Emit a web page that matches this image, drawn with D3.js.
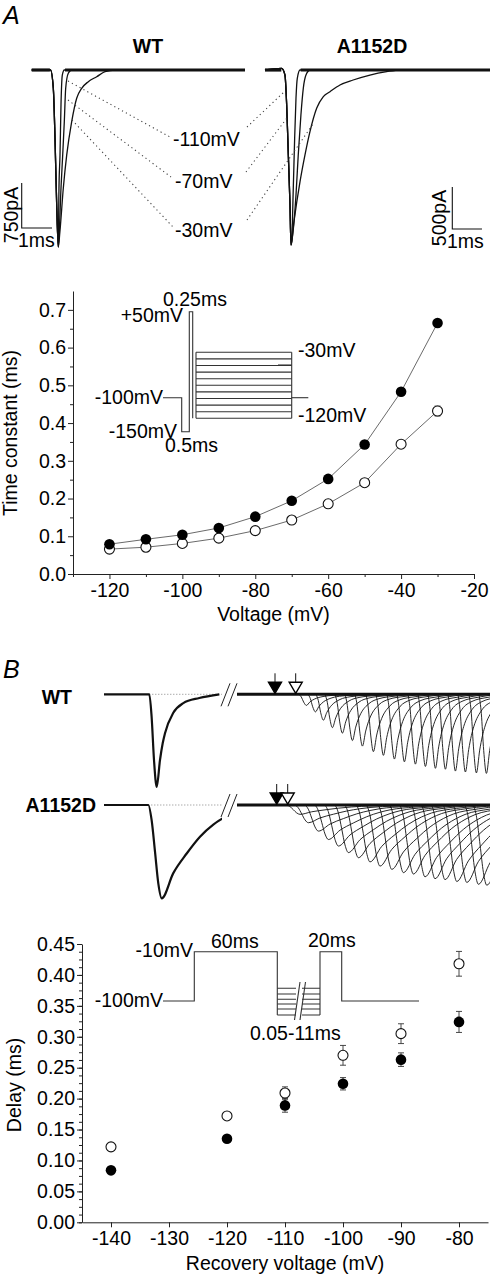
<!DOCTYPE html>
<html><head><meta charset="utf-8">
<script src="https://cdn.jsdelivr.net/npm/d3@7"></script>
<style>
body{margin:0;background:#fff}
svg text{font-family:"Liberation Sans",Arial,Helvetica,sans-serif;fill:#000}
</style></head><body>
<svg id="c" width="490" height="1278"></svg>
<script>
// ---------------- DATA ----------------
// Panel A top: current traces (ms, pA)
const wtDescent = [[0,0],[0.62,0],[0.713,-300],[0.769,-1130],[0.825,-2250],[0.878,-2950]];
const wtTraceFast = [[0.90,-1970],[0.934,-1420],[0.967,-580],[1.01,-85],[1.076,0],[7.04,0]];
const wtTraceMid = [[0.91,-2700],[0.967,-1967],[1.023,-1417],[1.076,-862],[1.122,-305],[1.208,-55],[1.32,0],[7.04,0]];
const wtTraceSlow = [[0.93,-2700],[1.043,-1970],[1.155,-1420],[1.32,-860],[1.485,-470],[1.65,-305],[1.868,-195],[2.145,-112],[2.42,-28],[2.75,0],[7.04,0]];
const mutDescent = [[0,0],[0.56,20],[0.673,-60],[0.73,-416],[0.786,-1011],[0.842,-1607],[0.875,-2083]];
const mutTraceFast = [[0.898,-2043],[0.953,-1408],[0.999,-813],[1.044,-337],[1.088,-99],[1.18,0],[7.58,0]];
const mutTraceMid = [[0.932,-1963],[1.044,-1488],[1.12,-1011],[1.21,-535],[1.29,-218],[1.38,-60],[1.52,0],[7.58,0]];
const mutTraceSlow = [[0.976,-1805],[1.18,-1329],[1.347,-1011],[1.515,-734],[1.74,-456],[1.965,-317],[2.19,-258],[2.525,-178],[2.97,-119],[3.535,-60],[4.1,-20],[4.55,0],[7.58,0]];
const traceLabels = ["-110mV","-70mV","-30mV"];

// Chart 1: time constant vs voltage
const tauVoltages = [-120,-110,-100,-90,-80,-70,-60,-50,-40,-30];
const tauFilled   = [0.079,0.092,0.104,0.122,0.152,0.194,0.252,0.343,0.483,0.665];
const tauFilledErr= [0.003,0.003,0.003,0.004,0.004,0.004,0.005,0.006,0.009,0.007];
const tauOpen     = [0.066,0.071,0.081,0.095,0.115,0.143,0.186,0.242,0.344,0.432];
const tauOpenErr  = [0.004,0.003,0.003,0.004,0.004,0.004,0.004,0.005,0.006,0.013];
const tauTicksX = [-120,-100,-80,-60,-40,-20];
const tauTicksY = [0,0.1,0.2,0.3,0.4,0.5,0.6,0.7];

// Panel B: recovery traces (ms, fraction of peak)
const wtTemplate  = [[0,0],[0.115,-0.24],[0.235,-0.71],[0.37,-1],[0.535,-0.71],[0.67,-0.53],[0.785,-0.42],[1.2,-0.2],[1.7,-0.095],[2.5,-0.04],[3.5,0]];
const mutTemplate = [[0,0],[0.165,-0.16],[0.335,-0.5],[0.5,-0.84],[0.67,-1],[1.25,-0.73],[1.92,-0.52],[2.585,-0.34],[3.25,-0.21],[3.75,-0.14],[5,-0.06],[7,0]];
const wtMainOnset = 2.265, mutMainOnset = 2.215;
const wtRecOnsets = [9.75,10.2,10.6,11.05,11.55,12.05,12.55,13.1,13.6,14.15,14.65,15.2,15.7,16.2,16.7,17.2,17.7,18.25,18.75];
const wtRecAmps   = [0.12,0.19,0.28,0.36,0.42,0.50,0.56,0.62,0.66,0.70,0.73,0.755,0.78,0.80,0.81,0.83,0.84,0.85,0.855];
const mutRecOnsets= [9.13,9.55,10.05,10.55,11.05,11.55,12.05,12.63,13.13,13.72,14.3,14.8,15.38,15.88,16.38,16.97,17.47,18.05,18.47];
const mutRecAmps  = [0.10,0.19,0.28,0.37,0.44,0.51,0.565,0.61,0.655,0.69,0.725,0.74,0.77,0.79,0.80,0.82,0.83,0.85,0.86];
const wtArrows = [8.55, 9.585];
const mutArrows = [8.635, 9.185];

// Chart 2: delay vs recovery voltage
const delayVoltages = [-140,-120,-110,-100,-90,-80];
const delayFilled   = [0.084,0.135,0.189,0.224,0.263,0.324];
const delayFilledErr= [0.004,0.005,0.011,0.010,0.011,0.017];
const delayOpen     = [0.122,0.172,0.209,0.270,0.305,0.418];
const delayOpenErr  = [0.004,0.005,0.010,0.016,0.016,0.020];
const delayTicksX = [-140,-130,-120,-110,-100,-90,-80];
const delayTicksY = [0,0.05,0.1,0.15,0.2,0.25,0.3,0.35,0.4,0.45];

// ---------------- DRAW ----------------
const svg = d3.select("#c");
const FS = 19.5;
const ink = "#111";
const hy = s => s.replace(/\u2212/g,"-");

function txt(x,y,s,opt={}){
  const t = svg.append("text").attr("x",x).attr("y",y).text(s)
    .attr("font-size",opt.size||FS).attr("text-anchor",opt.anchor||"start");
  if(opt.bold) t.attr("font-weight","bold");
  if(opt.italic) t.attr("font-style","italic");
  if(opt.rot!==undefined) t.attr("transform",`rotate(${opt.rot},${x},${y})`);
  return t;
}
function poly(pts, w=1, col="#333", dash=null){
  const p = svg.append("path").attr("d", d3.line()(pts)).attr("fill","none")
     .attr("stroke",col).attr("stroke-width",w);
  if(dash) p.attr("stroke-dasharray",dash);
  return p;
}

// ===== Panel A label
txt(3,24,"A",{size:25,italic:true});
txt(148,53,"WT",{bold:true,anchor:"middle"});
txt(372,53,"A1152D",{bold:true,anchor:"middle"});

// ===== Panel A traces
const xWT = d3.scaleLinear().domain([0,7.04]).range([31.7,245]);
const yWT = d3.scaleLinear().domain([0,-750]).range([70,115]);
const xMU = d3.scaleLinear().domain([0,7.58]).range([265,490]);
const yMU = d3.scaleLinear().domain([0,-500]).range([70,112]);

function drawTrace(pts,xs,ys,w){
  svg.append("path").attr("d", d3.line().x(d=>xs(d[0])).y(d=>ys(d[1])).curve(d3.curveMonotoneX)(pts))
    .attr("fill","none").attr("stroke",ink).attr("stroke-width",w);
}
[wtTraceFast,wtTraceMid,wtTraceSlow].forEach(tr=>drawTrace(wtDescent.concat(tr),xWT,yWT,1.3));
[mutTraceFast,mutTraceMid,mutTraceSlow].forEach(tr=>drawTrace(mutDescent.concat(tr),xMU,yMU,1.3));
// noisy baselines (thick)
drawTrace([[0,0],[0.6,0]],xWT,yWT,3.2);
drawTrace([[1.1,0],[7.04,0]],xWT,yWT,3.2);
drawTrace([[0,0],[0.55,0]],xMU,yMU,3.2);
drawTrace([[1.2,0],[7.58,0]],xMU,yMU,3.2);

// dotted connectors
const dot = "1.2,3.2";
poly([[68,81],[170,137]],1.1,"#444",dot);
poly([[68,100],[171,177]],1.1,"#444",dot);
poly([[72,120],[173,227]],1.1,"#444",dot);
poly([[247,127],[284,92]],1.1,"#444",dot);
poly([[246,172],[287,118]],1.1,"#444",dot);
poly([[247,220],[313,124]],1.1,"#444",dot);
txt(173,146,traceLabels[0]);
txt(175,188,traceLabels[1]);
txt(175,237,traceLabels[2]);

// scale bars
{
  const x0=21.7, yb=228;
  poly([[x0,yb-(yWT(-750)-yWT(0))],[x0,yb],[x0+(xWT(1)-xWT(0)),yb]],1.1,"#111");
  txt(18,215,"750pA",{anchor:"middle",rot:-90});
  txt(18,247,"1ms");
  const x1=452.3, yb2=229;
  poly([[x1,yb2-(yMU(-500)-yMU(0))],[x1,yb2],[x1+(xMU(1)-xMU(0)),yb2]],1.1,"#111");
  txt(446,218,"500pA",{anchor:"middle",rot:-90});
  txt(447,248,"1ms");
}

// ===== Chart 1
{
  const x = d3.scaleLinear().domain([-130,-20]).range([73,474]);
  const y = d3.scaleLinear().domain([0,0.75]).range([574,291]);
  const gx = svg.append("g").attr("transform","translate(0,574)");
  gx.call(d3.axisBottom(x).tickValues(tauTicksX).tickSize(5).tickSizeOuter(0).tickPadding(4).tickFormat(d=>String(d)));
  const gxm = svg.append("g").attr("transform","translate(0,574)");
  gxm.call(d3.axisBottom(x).tickValues(d3.range(-130,-20,20)).tickSize(3).tickFormat(""));
  gxm.select(".domain").remove();
  const gy = svg.append("g").attr("transform","translate(73,0)");
  gy.call(d3.axisLeft(y).tickValues(tauTicksY).tickSize(5).tickSizeOuter(0).tickPadding(2).tickFormat(d=>hy(d3.format(".1f")(d))));
  const gym = svg.append("g").attr("transform","translate(73,0)");
  gym.call(d3.axisLeft(y).tickValues(d3.range(0.05,0.75,0.1)).tickSize(3).tickFormat(""));
  gym.select(".domain").remove();
  svg.selectAll("g text").attr("font-size",FS).attr("font-family","Liberation Sans, Arial, sans-serif");
  svg.selectAll("g path.domain, g .tick line").attr("stroke","#222");
  txt(17,433,"Time constant (ms)",{anchor:"middle",rot:-90});
  txt(273.5,621,"Voltage (mV)",{anchor:"middle"});

  // inset protocol
  const c="#333";
  poly([[163,397.7],[181.7,397.7],[181.7,431.7],[189.3,431.7],[189.3,311.7],[192.7,311.7],[192.7,418.3]],1.1,c);
  d3.range(11).forEach(i=>{ const yy=352.3+i*(418.3-352.3)/10; poly([[196,yy],[291.7,yy]],1.1,c); });
  poly([[196,352.3],[196,418.3]],1.1,c);
  poly([[291.7,352.3],[291.7,418.3]],1.1,c);
  poly([[291.7,397.7],[308.3,397.7]],1.1,c);
  poly([[278,365],[291.7,365]],1.1,c);
  txt(163,397.7+6.5,"-100mV",{anchor:"end"});
  txt(183,322,"+50mV",{anchor:"end"});
  txt(163,306,"0.25ms");
  txt(177,438,"-150mV",{anchor:"end"});
  txt(165,452,"0.5ms");
  txt(298,357,"-30mV");
  txt(298,422,"-120mV");

  const line = d3.line().x((d,i)=>x(tauVoltages[i])).y(d=>y(d));
  svg.append("path").attr("d",line(tauFilled)).attr("fill","none").attr("stroke","#444").attr("stroke-width",0.8);
  svg.append("path").attr("d",line(tauOpen)).attr("fill","none").attr("stroke","#444").attr("stroke-width",0.8);
  function errs(vals,errsA){
    vals.forEach((v,i)=>{
      const xx=x(tauVoltages[i]);
      poly([[xx,y(v-errsA[i])],[xx,y(v+errsA[i])]],0.9,"#333");
      poly([[xx-3,y(v+errsA[i])],[xx+3,y(v+errsA[i])]],0.9,"#333");
      poly([[xx-3,y(v-errsA[i])],[xx+3,y(v-errsA[i])]],0.9,"#333");
    });
  }
  errs(tauOpen,tauOpenErr); errs(tauFilled,tauFilledErr);
  svg.append("g").selectAll("circle").data(tauOpen).join("circle")
    .attr("cx",(d,i)=>x(tauVoltages[i])).attr("cy",d=>y(d)).attr("r",5)
    .attr("fill","#fff").attr("stroke","#111").attr("stroke-width",1.1);
  svg.append("g").selectAll("circle").data(tauFilled).join("circle")
    .attr("cx",(d,i)=>x(tauVoltages[i])).attr("cy",d=>y(d)).attr("r",5.3)
    .attr("fill","#000");
}

// ===== Panel B
txt(3,678,"B",{size:25,italic:true});
txt(72,704,"WT",{bold:true,anchor:"end"});
txt(96,812,"A1152D",{bold:true,anchor:"end"});
{
  const xB = d3.scaleLinear().domain([0,19.3]).range([104,490]);
  const breakA = 5.9, breakB = 6.65;
  const defs = svg.append("defs");
  defs.append("clipPath").attr("id","pre").append("rect").attr("x",0).attr("y",640).attr("width",xB(breakA)).attr("height",300);
  defs.append("clipPath").attr("id","post").append("rect").attr("x",xB(breakB)).attr("y",640).attr("width",490-xB(breakB)).attr("height",300);

  function row(y0, amp, template, mainOnset, onsets, amps, arrows){
    const yB = d3.scaleLinear().domain([0,-1]).range([y0,y0+amp]);
    const ln = d3.line().x(d=>xB(d[0])).y(d=>yB(d[1])).curve(d3.curveMonotoneX);
    // dotted baseline
    svg.append("path").attr("d",ln([[mainOnset,0],[breakA,0]])).attr("stroke","#777").attr("stroke-width",0.9)
      .attr("stroke-dasharray","1,2").attr("fill","none");
    const pre = svg.append("g").attr("clip-path","url(#pre)");
    pre.append("path").attr("d",ln([[0,0]].concat(template.map(p=>[p[0]+mainOnset,p[1]]))))
      .attr("fill","none").attr("stroke",ink).attr("stroke-width",2.2);
    const post = svg.append("g").attr("clip-path","url(#post)");
    onsets.forEach((o,i)=>{
      post.append("path").attr("d",ln(template.map(p=>[p[0]+o,p[1]*amps[i]])))
        .attr("fill","none").attr("stroke",ink).attr("stroke-width",0.9);
    });
    post.append("path").attr("d",ln([[breakB,0],[19.3,0]])).attr("fill","none").attr("stroke",ink).attr("stroke-width",3);
    // break marks
    poly([[xB(5.9)-1,y0+12],[xB(6.35)-1,y0-11]],1,"#222");
    poly([[xB(6.2),y0+12],[xB(6.65),y0-11]],1,"#222");
    // arrows
    arrows.forEach((a,i)=>{
      const ax=xB(a);
      poly([[ax,y0-21],[ax,y0-11]],1,"#111");
      svg.append("path").attr("d",`M${ax-6.5},${y0-12}L${ax+6.5},${y0-12}L${ax},${y0-1}Z`)
        .attr("fill", i===0?"#000":"#fff").attr("stroke","#000").attr("stroke-width",1.4);
    });
  }
  row(694.3, 92.5, wtTemplate, wtMainOnset, wtRecOnsets, wtRecAmps, wtArrows);
  row(805, 93.3, mutTemplate, mutMainOnset, mutRecOnsets, mutRecAmps, mutArrows);
}

// ===== Chart 2
{
  const x = d3.scaleLinear().domain([-145,-75]).range([82,488]);
  const y = d3.scaleLinear().domain([0,0.45]).range([1222.3,944]);
  const gx = svg.append("g").attr("transform","translate(0,1222.3)");
  gx.call(d3.axisBottom(x).tickValues(delayTicksX).tickSize(5).tickSizeOuter(0).tickPadding(4).tickFormat(d=>String(d)));
  const gy = svg.append("g").attr("transform","translate(82,0)");
  gy.call(d3.axisLeft(y).tickValues(delayTicksY).tickSize(5).tickSizeOuter(0).tickPadding(2).tickFormat(d=>hy(d3.format(".2f")(d))));
  const gym = svg.append("g").attr("transform","translate(82,0)");
  gym.call(d3.axisLeft(y).tickValues(d3.range(0,0.45,0.0125)).tickSize(3).tickFormat(""));
  gym.select(".domain").remove();
  svg.selectAll("g text").attr("font-size",FS).attr("font-family","Liberation Sans, Arial, sans-serif");
  svg.selectAll("g path.domain, g .tick line").attr("stroke","#222");
  txt(21,1085,"Delay (ms)",{anchor:"middle",rot:-90});
  txt(285,1270,"Recovery voltage (mV)",{anchor:"middle"});

  const c="#333";
  poly([[163,1001],[194.3,1001],[194.3,951.7],[277.3,951.7],[277.3,1015]],1.1,c);
  [988.3,994,999.3,1004,1009,1015].forEach(yy=>poly([[277.3,yy],[320,yy]],1.1,c));
  poly([[320,1015],[320,951.7],[341.7,951.7],[341.7,1001],[419,1001]],1.1,c);
  svg.append("rect").attr("x",296).attr("y",984).attr("width",6).attr("height",33).attr("fill","#fff");
  poly([[294.5,1020],[300,982]],1.1,c);
  poly([[300,1020],[305.5,982]],1.1,c);
  txt(193,957,"-10mV",{anchor:"end"});
  txt(211,948,"60ms");
  txt(308,947,"20ms");
  txt(163,1007,"-100mV",{anchor:"end"});
  txt(250,1040,"0.05-11ms");

  function errs(vals,errsA){
    vals.forEach((v,i)=>{
      const xx=x(delayVoltages[i]);
      poly([[xx,y(v-errsA[i])],[xx,y(v+errsA[i])]],0.9,"#333");
      poly([[xx-3,y(v+errsA[i])],[xx+3,y(v+errsA[i])]],0.9,"#333");
      poly([[xx-3,y(v-errsA[i])],[xx+3,y(v-errsA[i])]],0.9,"#333");
    });
  }
  errs(delayOpen,delayOpenErr); errs(delayFilled,delayFilledErr);
  svg.append("g").selectAll("circle").data(delayOpen).join("circle")
    .attr("cx",(d,i)=>x(delayVoltages[i])).attr("cy",d=>y(d)).attr("r",5)
    .attr("fill","#fff").attr("stroke","#111").attr("stroke-width",1.1);
  svg.append("g").selectAll("circle").data(delayFilled).join("circle")
    .attr("cx",(d,i)=>x(delayVoltages[i])).attr("cy",d=>y(d)).attr("r",5.3)
    .attr("fill","#000");
}
</script>
</body></html>
